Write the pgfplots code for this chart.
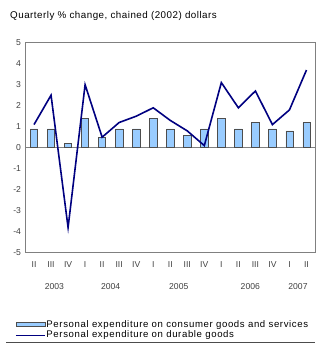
\documentclass[border=0pt]{standalone}
\usepackage{pgfplots}
\pgfplotsset{compat=1.18}
\usepackage{fontspec}
\setmainfont{Liberation Sans}
\newfontfamily\widesans[LetterSpace=5]{Liberation Sans}
\newfontfamily\legendsans[LetterSpace=6.5]{Liberation Sans}
\definecolor{barfill}{HTML}{99CCFF}
\definecolor{barline}{HTML}{4D4D4D}
\definecolor{navyline}{HTML}{000080}
\definecolor{framegray}{HTML}{808080}
\begin{document}
\begin{tikzpicture}[x=1pt,y=1pt]
\useasboundingbox (0,0) rectangle (320,358);
\node[anchor=west,font=\widesans\fontsize{9.8}{11}\selectfont,inner sep=0pt] at (10,342.5) {Quarterly \% change, chained (2002) dollars};
\begin{axis}[
  at={(25.5pt,105.3pt)}, anchor=south west,
  scale only axis, width=289.5pt, height=210pt,
  xmin=-0.5, xmax=16.5, ymin=-5, ymax=5,
  ytick={-5,-4,...,5},
  xtick={0,...,16},
  xticklabels={II,III,IV,I,II,III,IV,I,II,III,IV,I,II,III,IV,I,II},
  major tick length=0pt,
  tick label style={font=\fontsize{8.6}{10}\selectfont, text=black!75},
  /pgf/number format/assume math mode=true,
  yticklabel style={xshift=-1pt},
  xticklabel style={yshift=-5pt},
  axis line style={framegray, line width=0.8pt},
  extra y ticks={0}, extra y tick labels={},
  extra y tick style={grid=major, major grid style={framegray, line width=0.8pt}},
  clip=false,
  legend cell align=left,
  legend style={at={(axis description cs:-0.036,-0.316)}, anchor=north west,
    draw=none, fill=none, font=\legendsans\fontsize{9.6}{10}\selectfont,
    row sep=0.3pt, inner sep=0pt,
    nodes={inner sep=1pt}},
]
\addplot[ybar, bar width=7.3pt, fill=barfill, draw=barline, line width=0.6pt,
  legend image code/.code={\draw[fill=barfill, draw=barline, line width=0.6pt] (0pt,-2.3pt) rectangle (29pt,2.3pt);}]
  coordinates {(0,0.9) (1,0.9) (2,0.2) (3,1.4) (4,0.5) (5,0.9) (6,0.9) (7,1.4)
    (8,0.9) (9,0.6) (10,0.9) (11,1.4) (12,0.9) (13,1.2) (14,0.9) (15,0.8) (16,1.2)};
\addlegendentry{Personal expenditure on consumer goods and services}
\addplot[navyline, line width=1.6pt, mark=none,
  legend image code/.code={\draw[navyline, line width=1.2pt] (0pt,0pt) -- (29pt,0pt);}]
  coordinates {(0,1.1) (1,2.5) (2,-3.8) (3,3.0) (4,0.5) (5,1.2) (6,1.5) (7,1.9)
    (8,1.3) (9,0.8) (10,0.1) (11,3.1) (12,1.9) (13,2.7) (14,1.1) (15,1.8) (16,3.7)};
\addlegendentry{Personal expenditure on durable goods}
\node[font=\fontsize{8.6}{10}\selectfont, text=black!75] at (axis cs:1.2,-5) [yshift=-34pt] {2003};
\node[font=\fontsize{8.6}{10}\selectfont, text=black!75] at (axis cs:4.5,-5) [yshift=-34pt] {2004};
\node[font=\fontsize{8.6}{10}\selectfont, text=black!75] at (axis cs:8.5,-5) [yshift=-34pt] {2005};
\node[font=\fontsize{8.6}{10}\selectfont, text=black!75] at (axis cs:12.7,-5) [yshift=-34pt] {2006};
\node[font=\fontsize{8.6}{10}\selectfont, text=black!75] at (axis cs:15.5,-5) [yshift=-34pt] {2007};
\draw[black!70, line width=0.6pt] ([xshift=-19.5pt,yshift=-89.6pt]axis cs:-0.5,-5) -- ([yshift=-89.6pt]axis cs:16.5,-5);
\end{axis}
\end{tikzpicture}
\end{document}
